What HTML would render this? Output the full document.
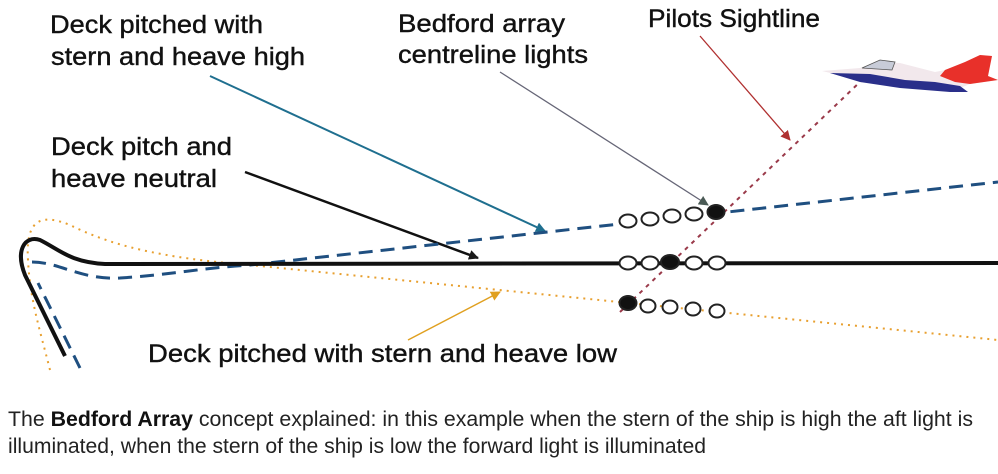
<!DOCTYPE html>
<html><head><meta charset="utf-8"><style>
html,body{margin:0;padding:0;background:#fff;}
svg{display:block;}
text{font-family:"Liberation Sans",sans-serif;}
</style></head><body>
<svg width="998" height="474" viewBox="0 0 998 474" xmlns="http://www.w3.org/2000/svg">
<defs>
<marker id="ab" markerWidth="10" markerHeight="10" refX="9" refY="5" orient="auto" markerUnits="userSpaceOnUse"><path d="M0,0 L10,5 L0,10 z" fill="#1a1a1a"/></marker>
<marker id="at" markerWidth="10" markerHeight="10" refX="9" refY="5" orient="auto" markerUnits="userSpaceOnUse"><path d="M0,0 L10,5 L0,10 z" fill="#1f6f8f"/></marker>
<marker id="ag" markerWidth="10" markerHeight="10" refX="9" refY="5" orient="auto" markerUnits="userSpaceOnUse"><path d="M0,0 L10,5 L0,10 z" fill="#4a5a55"/></marker>
<marker id="ar" markerWidth="10" markerHeight="10" refX="9" refY="5" orient="auto" markerUnits="userSpaceOnUse"><path d="M0,0 L10,5 L0,10 z" fill="#b03030"/></marker>
<marker id="ao" markerWidth="10" markerHeight="10" refX="9" refY="5" orient="auto" markerUnits="userSpaceOnUse"><path d="M0,0 L10,5 L0,10 z" fill="#e0a020"/></marker>
</defs>
<g font-size="25" fill="#111" stroke="#111" stroke-width="0.4">
<text x="50" y="33" textLength="213" lengthAdjust="spacingAndGlyphs">Deck pitched with</text>
<text x="51" y="65" textLength="254" lengthAdjust="spacingAndGlyphs">stern and heave high</text>
<text x="398" y="32" textLength="167" lengthAdjust="spacingAndGlyphs">Bedford array</text>
<text x="398" y="63" textLength="190" lengthAdjust="spacingAndGlyphs">centreline lights</text>
<text x="648" y="27" textLength="172" lengthAdjust="spacingAndGlyphs">Pilots Sightline</text>
<text x="51" y="155" textLength="181" lengthAdjust="spacingAndGlyphs">Deck pitch and</text>
<text x="51" y="187" textLength="166" lengthAdjust="spacingAndGlyphs">heave neutral</text>
<text x="148" y="362" textLength="469" lengthAdjust="spacingAndGlyphs">Deck pitched with stern and heave low</text>
</g>
<line x1="210" y1="76" x2="545" y2="231" stroke="#1f6f8f" stroke-width="2" marker-end="url(#at)"/>
<line x1="500" y1="72" x2="708" y2="205" stroke="#667" stroke-width="1.3" marker-end="url(#ag)"/>
<line x1="700" y1="36" x2="790" y2="140" stroke="#b03030" stroke-width="1.3" marker-end="url(#ar)"/>
<line x1="245" y1="172" x2="478" y2="258" stroke="#111" stroke-width="2.5" marker-end="url(#ab)"/>
<line x1="408" y1="340" x2="500" y2="292" stroke="#e0a020" stroke-width="1.5" marker-end="url(#ao)"/>
<line x1="620" y1="312" x2="862" y2="80" stroke="#9a3a4a" stroke-width="2" stroke-dasharray="4,5"/>
<path d="M50,370 C40,330 30,300 28,260 C25,215 45,215 70,225 C110,245 160,258 250,265 L998,340" fill="none" stroke="#e8a030" stroke-width="2" stroke-dasharray="2,5"/>
<path d="M80,368 L38,283 M32,262 C60,262 80,280 120,278 C170,275 200,268 250,265 L998,182" fill="none" stroke="#1f4f80" stroke-width="3" stroke-dasharray="14,8"/>
<path d="M65,356 L25,275 C15,250 25,235 40,240 C60,250 70,262 105,264 L998,263" fill="none" stroke="#111" stroke-width="4"/>
<g stroke="#222" stroke-width="2" fill="#fff">
<ellipse cx="628" cy="221" rx="8.5" ry="6.5"/><ellipse cx="650" cy="219" rx="8.5" ry="6.5"/><ellipse cx="672" cy="216" rx="8.5" ry="6.5"/><ellipse cx="694" cy="214" rx="8.5" ry="6.5"/>
<ellipse cx="716" cy="212" rx="8.5" ry="7" fill="#111"/>
<ellipse cx="628" cy="263" rx="8.5" ry="6.5"/><ellipse cx="650" cy="263" rx="8.5" ry="6.5"/><ellipse cx="670" cy="262" rx="9" ry="7" fill="#111"/><ellipse cx="694" cy="263" rx="8.5" ry="6.5"/><ellipse cx="717" cy="263" rx="8.5" ry="6.5"/>
<ellipse cx="628" cy="303" rx="8.5" ry="7" fill="#111"/><ellipse cx="648" cy="306" rx="7.5" ry="6.5"/><ellipse cx="670" cy="307" rx="7.5" ry="6.5"/><ellipse cx="693" cy="309" rx="7.5" ry="6.5"/><ellipse cx="717" cy="311" rx="7.5" ry="6.5"/>
</g>
<g>
<path d="M822,71 L860,68 L880,62 L900,63 L935,72 L945,70 L965,62 L980,55 L992,56 L988,76 L998,80 L970,84 L955,90 L900,86 L860,80 Z" fill="#f2e8ec"/>
<path d="M830,73 L870,74 L905,80 L935,82 L960,86 L968,92 L950,92 L900,88 L860,82 Z" fill="#2a2f8a"/>
<path d="M945,70 L965,62 L980,55 L992,56 L988,76 L998,80 L970,84 L955,82 L940,76 Z" fill="#e8302a"/>
<path d="M862,68 L880,60 L895,62 L892,70 Z" fill="#c8ccd8" stroke="#555" stroke-width="0.8"/>
</g>
<g font-size="21" fill="#222">
<text x="8" y="426" textLength="965" lengthAdjust="spacingAndGlyphs">The <tspan font-weight="bold" fill="#111">Bedford Array</tspan> concept explained: in this example when the stern of the ship is high the aft light is</text>
<text x="8" y="453" textLength="698" lengthAdjust="spacingAndGlyphs">illuminated, when the stern of the ship is low the forward light is illuminated</text>
</g>
</svg>
</body></html>
